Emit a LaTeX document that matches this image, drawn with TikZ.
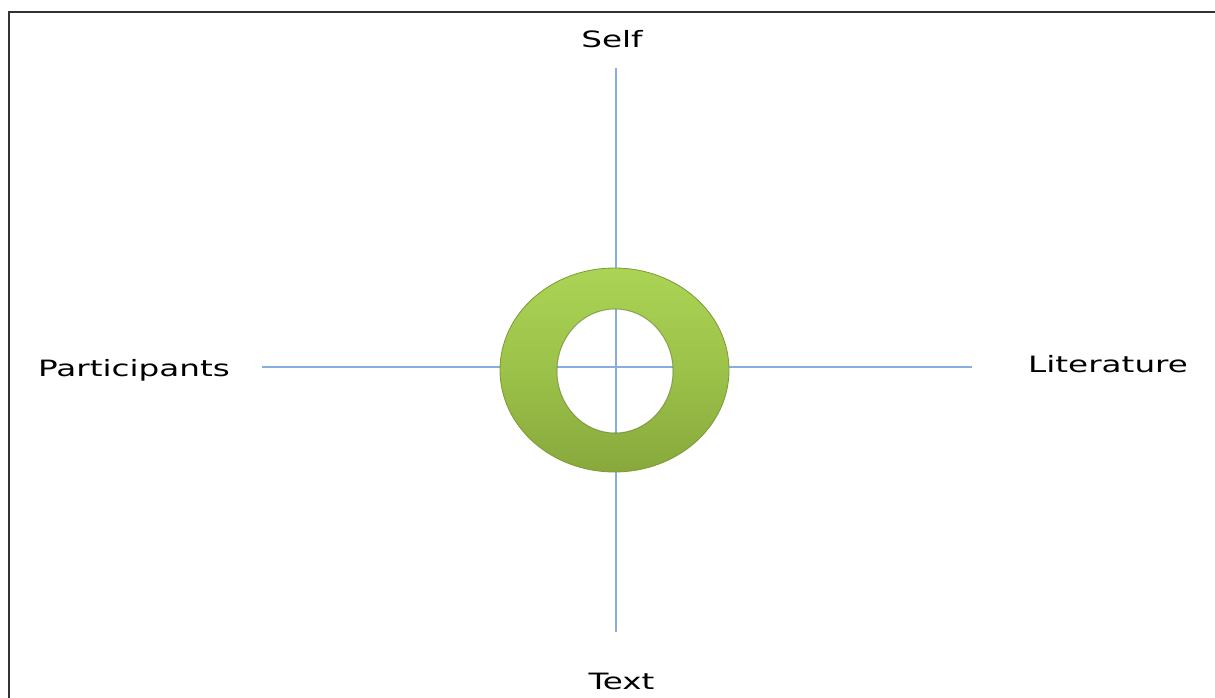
\documentclass[tikz,border=0pt]{standalone}
\usepackage{fontspec}
\setmainfont{DejaVu Sans}
\usepackage{graphicx}
\definecolor{axisblue}{HTML}{88AEDF}
\definecolor{ringtop}{HTML}{ABD455}
\definecolor{ringmid}{HTML}{9CC249}
\definecolor{ringbot}{HTML}{88A83C}
\definecolor{ringedge}{HTML}{7C9A34}
\definecolor{framegray}{HTML}{333333}
\tikzset{
  axisline/.style={draw=axisblue, line width=2.6pt},
  lbl/.style={inner sep=0pt, font=\fontsize{22.5}{26}\selectfont, text=black},
  frame/.style={draw=framegray, line width=2.4pt}
}
\newcommand{\wide}[1]{\scalebox{1.45}[1]{#1}}
\begin{document}
\begin{tikzpicture}[x=1pt,y=-1pt]
\useasboundingbox (0,0) rectangle (1215,698);
\fill[white] (0,0) rectangle (1215,698);
\draw[frame] (9,12) rectangle (1230,720);
% axis end points
\coordinate (vtop) at (616,68);
\coordinate (vbot) at (616,632);
\coordinate (hleft) at (262,367);
\coordinate (hright) at (972,367);
\draw[axisline] (vtop) -- (vbot);
\draw[axisline] (hleft) -- (hright);
% ring
\coordinate (rc) at (614.5,370);
\coordinate (hc) at (615,371);
\shade[even odd rule, top color=ringtop, bottom color=ringbot, middle color=ringmid]
  (rc) ellipse [x radius=114.5, y radius=102] (hc) ellipse [x radius=58, y radius=62];
\draw[ringedge, line width=0.8pt] (rc) ellipse [x radius=114.5, y radius=102];
\draw[ringedge!70!black, line width=1pt, opacity=0.5] (hc) ellipse [x radius=58, y radius=62];
% axes visible through the hole
\begin{scope}
\clip (hc) ellipse [x radius=57, y radius=61];
\draw[axisline] (vtop) -- (vbot);
\draw[axisline] (hleft) -- (hright);
\end{scope}
% labels
\node[lbl, anchor=base] (self) at (612,48) {\wide{Self}};
\node[lbl, anchor=base] (text) at (621.5,689) {\wide{Text}};
\node[lbl, anchor=base west] (part) at (38,376) {\wide{Participants}};
\node[lbl, anchor=base west] (lit) at (1028,372) {\wide{Literature}};
\end{tikzpicture}
\end{document}
